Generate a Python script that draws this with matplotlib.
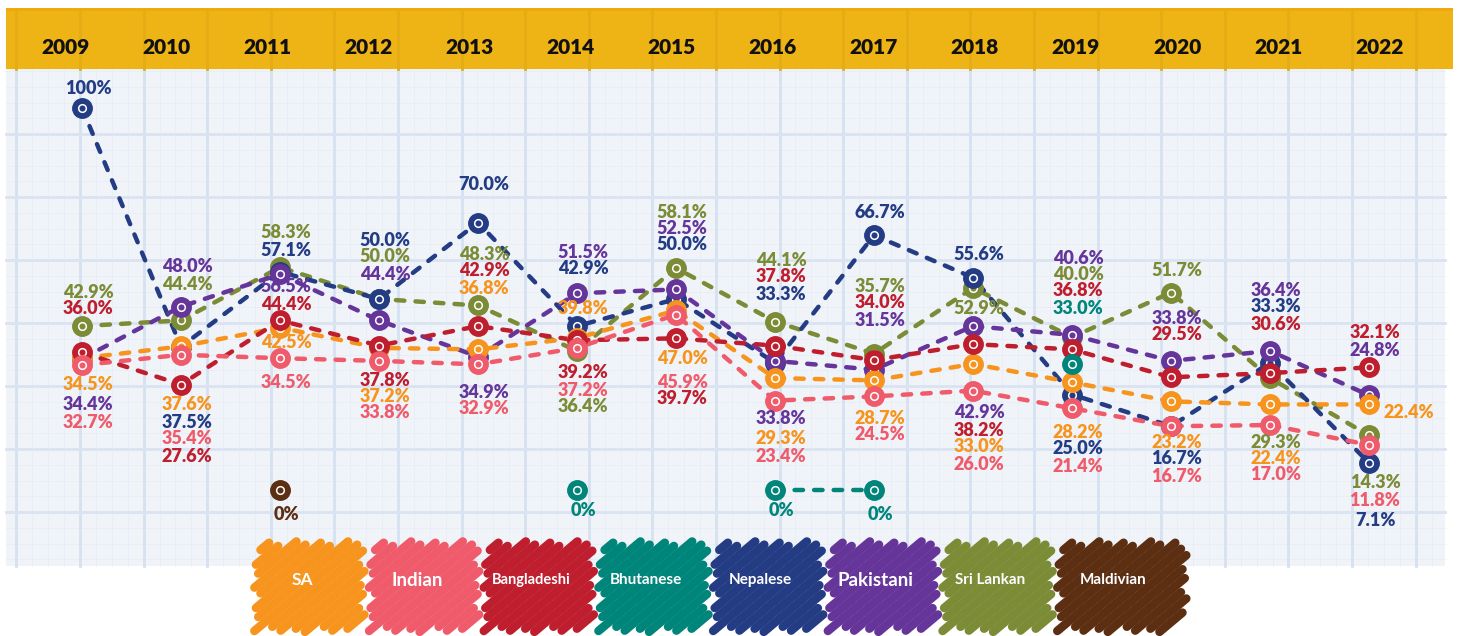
import numpy as np
import matplotlib.pyplot as plt
from matplotlib.patches import Rectangle

nan = np.nan
years = list(range(2009, 2023))

sa = [34.5, 37.6, 42.5, 37.2, 36.8, 39.8, 47.0, 29.3, 28.7, 33.0, 28.2, 23.2, 22.4, 22.4]
indian = [32.7, 35.4, 34.5, 33.8, 32.9, 37.2, 45.9, 23.4, 24.5, 26.0, 21.4, 16.7, 17.0, 11.8]
bangladeshi = [36.0, 27.6, 44.4, 37.8, 42.9, 39.2, 39.7, 37.8, 34.0, 38.2, 36.8, 29.5, 30.6, 32.1]
bhutanese = [nan, nan, nan, nan, nan, 0, nan, 0, 0, nan, 33.0, nan, nan, nan]
nepalese = [100, 37.5, 57.1, 50.0, 70.0, 42.9, 50.0, 33.3, 66.7, 55.6, 25.0, 16.7, 33.3, 7.1]
pakistani = [34.4, 48.0, 56.5, 44.4, 34.9, 51.5, 52.5, 33.8, 31.5, 42.9, 40.6, 33.8, 36.4, 24.8]
sri_lankan = [42.9, 44.4, 58.3, 50.0, 48.3, 36.4, 58.1, 44.1, 35.7, 52.9, 40.0, 51.7, 29.3, 14.3]
maldivian = [nan, nan, 0, nan, nan, nan, nan, nan, nan, nan, nan, nan, nan, nan]

groups = ['SA', 'Indian', 'Bangladeshi', 'Bhutanese', 'Nepalese', 'Pakistani', 'Sri Lankan', 'Maldivian']
colors = ['#F7941D', '#EF5B6B', '#BE1E2D', '#00857A', '#233C84', '#65359A', '#7C8B35', '#5C2E12']

# label rows (pixels from the top of the picture), one per year
lbl_sa = [385, 405, 343, 396, 288, 309, 359, 439, 418, 447, 432, 442, 459, 412]
lbl_in = [423, 439, 383, 412, 408, 390, 382, 456, 435, 465, 467, 476, 475, 500]
lbl_bd = [309, 456, 304, 380, 271, 372, 398, 277, 303, 430, 291, 335, 325, 333]
lbl_bt = [None, None, None, None, None, 510, None, 510, 515, None, 308, None, None, None]
lbl_np = [88, 422, 250, 240, 185, 268, 245, 295, 213, 255, 448, 459, 307, 520]
lbl_pk = [405, 267, 287, 274, 392, 252, 228, 418, 320, 413, 258, 318, 290, 350]
lbl_sl = [292, 285, 233, 257, 255, 407, 212, 260, 286, 308, 275, 270, 443, 483]
lbl_md = [None, None, 515, None, None, None, None, None, None, None, None, None, None, None]

W, H = 1463, 636
FONT = ['Lato', 'DejaVu Sans']


def ypx(p):
    return (490 - p) / 3.82


def xpx(p):
    return 2009 + (p - 82) / 99


def fmt(v):
    if v in (0, 100):
        return f"{v:.0f}%"
    return f"{v:.1f}%"


def scribble(axp, x0, x1, y0, y1, color, ang=40):
    a = np.radians(ang)
    d = np.array([np.cos(a), -np.sin(a)])
    n = np.array([np.sin(a), np.cos(a)])
    corners = np.array([[x0, y0], [x1, y0], [x0, y1], [x1, y1]])
    cs = corners @ n
    k = 0
    for c in np.arange(cs.min() + 4, cs.max() - 3, 8.3):
        base = c * n
        tmin, tmax = -1e9, 1e9
        for i, (lo, hi) in enumerate([(x0, x1), (y0, y1)]):
            t1 = (lo - base[i]) / d[i]
            t2 = (hi - base[i]) / d[i]
            tmin = max(tmin, min(t1, t2))
            tmax = min(tmax, max(t1, t2))
        if tmax <= tmin:
            continue
        e1 = [-2, 4, 1, 6][k % 4]
        e2 = [5, 0, 7, 2][k % 4]
        p1 = base + (tmin - e1) * d
        p2 = base + (tmax + e2) * d
        axp.plot([p1[0], p2[0]], [p1[1], p2[1]], color=color, lw=6.2,
                 solid_capstyle='round', zorder=5)
        k += 1


fig = plt.figure(figsize=(W / 100, H / 100), dpi=100)

# background in picture pixels
axp = fig.add_axes([0, 0, 1, 1], zorder=0)
axp.set_xlim(0, W)
axp.set_ylim(H, 0)
axp.axis('off')

axp.add_patch(Rectangle((6, 69), 1439, 497, facecolor='#F0F4F9', edgecolor='none', zorder=1))
for gx in np.arange(16.4, 1445, 63.6 / 4):
    axp.plot([gx, gx], [69, 566], color='#E7EDF6', lw=0.6, zorder=1.2)
for gy in np.arange(71, 566, 63 / 4):
    axp.plot([6, 1445], [gy, gy], color='#E7EDF6', lw=0.6, zorder=1.2)
for gx in np.arange(16.4, 1445, 63.6):
    axp.plot([gx, gx], [69, 566], color='#D6E1F1', lw=2.0, zorder=1.5)
for gy in np.arange(134, 566, 63):
    axp.plot([6, 1445], [gy, gy], color='#DAE3F1', lw=2.0, zorder=1.5)

axp.add_patch(Rectangle((6, 8), 1447, 61, facecolor='#EEB416', edgecolor='none', zorder=2))
axp.add_patch(Rectangle((6, 8), 1447, 3, facecolor='#F0A80E', edgecolor='none', zorder=2.1))
for gx in np.arange(16.4, 1453, 63.6):
    axp.plot([gx, gx], [11, 69], color='#E4AC15', lw=2, zorder=2.2)

for i, yr in enumerate(years):
    axp.text(65 + 101.1 * i, 47, str(yr), ha='center', va='center', fontsize=15,
             fontweight='heavy', family=FONT, color='#111111', zorder=3)

# legend scribbles
leg_size = [12.5, 13.5, 10.5, 11, 11, 13.5, 11, 11]
for i, (g, c) in enumerate(zip(groups, colors)):
    left = 255 + 114.7 * i
    width = 127 if g == 'Maldivian' else 108
    scribble(axp, left + 4, left + width - 4, 546, 628, c)
    axp.text(left + 47 + (8 if g == 'Maldivian' else 0), 580, g, ha='center', va='center',
             fontsize=leg_size[i], fontweight='bold', family=FONT, color='white', zorder=6)

# data axes
ax = fig.add_axes([0, 0, 1, 1], zorder=1)
ax.patch.set_alpha(0)
ax.set_xlim(xpx(0), xpx(W))
ax.set_ylim(ypx(H), ypx(0))
ax.axis('off')

series = [
    (sri_lankan, colors[6], lbl_sl, 3),
    (nepalese, colors[4], lbl_np, 4),
    (pakistani, colors[5], lbl_pk, 5),
    (sa, colors[0], lbl_sa, 6),
    (bangladeshi, colors[2], lbl_bd, 7),
    (indian, colors[1], lbl_in, 8),
    (bhutanese, colors[3], lbl_bt, 9),
    (maldivian, colors[7], lbl_md, 10),
]

for vals, c, lbls, z in series:
    ax.plot(years, vals, color=c, lw=3.2, ls=(0, (1.9, 2.5)), dash_capstyle='round', zorder=z)
for vals, c, lbls, z in series:
    ax.plot(years, vals, 'o', ms=14, color=c, zorder=z + 10)
    ax.plot(years, vals, 'o', ms=5.5, mfc='none', mec='white', mew=1.1, zorder=z + 10.1)
    for yr, v, ly in zip(years, vals, lbls):
        if ly is None or np.isnan(v):
            continue
        dx = 6
        if yr == 2022 and c == colors[0]:
            dx = 40
        ax.text(yr + dx / 99, ypx(ly), fmt(v), ha='center', va='center', color=c,
                fontsize=13, fontweight='heavy', family=FONT, zorder=30)

fig.savefig('out.png', dpi=100)
